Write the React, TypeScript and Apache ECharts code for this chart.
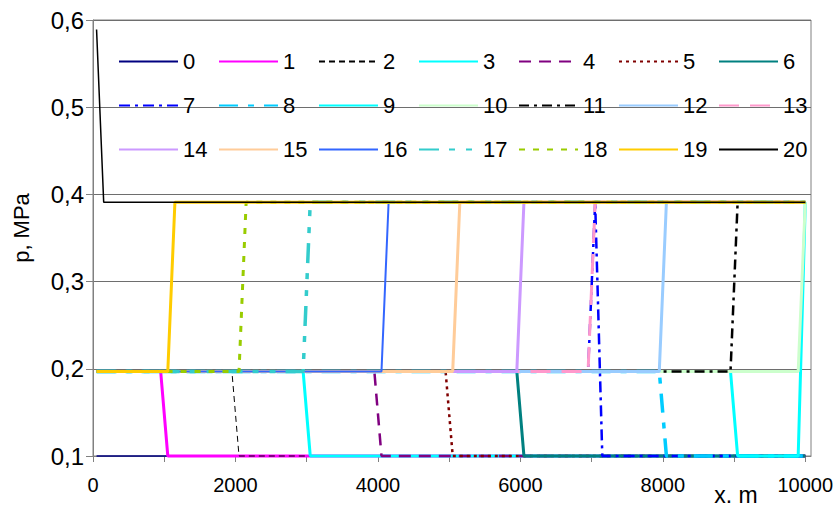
import React, { useEffect, useRef } from "react";
import * as echarts from "echarts";

// Pressure profiles p(x) along the pipe, one per time step 0..20 (x in m, p in MPa)
const profile0: [number, number][] = [[50, 0.1], [10000, 0.1]];
const profile1: [number, number][] = [[50, 0.197], [950, 0.197], [1050, 0.1], [10000, 0.1]];
const profile2: [number, number][] = [[50, 0.197], [1950, 0.197], [2050, 0.1], [10000, 0.1]];
const profile3: [number, number][] = [[50, 0.197], [2950, 0.197], [3050, 0.1], [10000, 0.1]];
const profile4: [number, number][] = [[50, 0.197], [3950, 0.197], [4050, 0.1], [10000, 0.1]];
const profile5: [number, number][] = [[50, 0.197], [4950, 0.197], [5050, 0.1], [10000, 0.1]];
const profile6: [number, number][] = [[50, 0.197], [5950, 0.197], [6050, 0.1], [10000, 0.1]];
const profile7: [number, number][] = [[50, 0.197], [6950, 0.197], [7050, 0.391], [7150, 0.1], [10000, 0.1]];
const profile8: [number, number][] = [[50, 0.197], [7950, 0.197], [8050, 0.1], [10000, 0.1]];
const profile9: [number, number][] = [[50, 0.197], [8950, 0.197], [9050, 0.1], [9900, 0.1], [10000, 0.391]];
const profile10: [number, number][] = [[50, 0.197], [9900, 0.197], [10000, 0.391]];
const profile11: [number, number][] = [[50, 0.197], [8950, 0.197], [9050, 0.391], [10000, 0.391]];
const profile12: [number, number][] = [[50, 0.197], [7950, 0.197], [8050, 0.391], [10000, 0.391]];
const profile13: [number, number][] = [[50, 0.197], [6950, 0.197], [7050, 0.391], [10000, 0.391]];
const profile14: [number, number][] = [[50, 0.197], [5950, 0.197], [6050, 0.391], [10000, 0.391]];
const profile15: [number, number][] = [[50, 0.197], [5050, 0.197], [5150, 0.391], [10000, 0.391]];
const profile16: [number, number][] = [[50, 0.197], [4050, 0.197], [4150, 0.391], [10000, 0.391]];
const profile17: [number, number][] = [[50, 0.197], [2950, 0.197], [3050, 0.391], [10000, 0.391]];
const profile18: [number, number][] = [[50, 0.197], [2050, 0.197], [2150, 0.391], [10000, 0.391]];
const profile19: [number, number][] = [[50, 0.197], [1050, 0.197], [1150, 0.391], [10000, 0.391]];
const profile20: [number, number][] = [[50, 0.589], [150, 0.391], [10000, 0.391]];

const profiles = [
  profile0, profile1, profile2, profile3, profile4, profile5, profile6,
  profile7, profile8, profile9, profile10, profile11, profile12, profile13,
  profile14, profile15, profile16, profile17, profile18, profile19, profile20,
];

const seriesNames = [
  "0", "1", "2", "3", "4", "5", "6",
  "7", "8", "9", "10", "11", "12", "13",
  "14", "15", "16", "17", "18", "19", "20",
];

const seriesColors = [
  "#000080", "#FF00FF", "#000000", "#00FFFF", "#800080", "#800000", "#008080",
  "#0000FF", "#00CCFF", "#00FFFF", "#CCFFCC", "#000000", "#99CCFF", "#FF99CC",
  "#CC99FF", "#FFCC99", "#3366FF", "#33CCCC", "#99CC00", "#FFCC00", "#000000",
];

const seriesWidths = [
  1.5, 3, 1, 3, 2.5, 2.5, 3,
  2.5, 3.5, 3, 3, 2.5, 3, 3,
  3, 3, 2, 3.5, 3, 3, 1.5,
];

const seriesDashes: (number[] | "solid")[] = [
  "solid", "solid", [6, 4], "solid", [12, 8], [3, 4], "solid",
  [11, 5, 3, 5], [19, 10, 6, 10], "solid", "solid", [10, 5, 3, 5], "solid", [20, 11],
  "solid", "solid", "solid", [20, 10, 6, 11, 6, 10], [6, 8], "solid", "solid",
];

const yTicks = { min: 0.1, max: 0.6, step: 0.1 };
const xTicks = { min: 0, max: 10080, step: 1000, labelStep: 2000 };

const FONT = "'Liberation Sans', Arial, Helvetica, sans-serif";

export default function App() {
  const ref = useRef<HTMLDivElement>(null);

  useEffect(() => {
    if (!ref.current) return;
    const chart = echarts.init(ref.current, undefined, { renderer: "svg" });

    const series = profiles.map((data, i) => ({
      name: seriesNames[i],
      type: "line" as const,
      data,
      symbol: "none",
      clip: false,
      silent: true,
      color: seriesColors[i],
      lineStyle: {
        color: seriesColors[i],
        width: seriesWidths[i],
        type: seriesDashes[i],
      },
      emphasis: { disabled: true },
    }));

    // Legend laid out as a 7-column table: one legend component per entry
    const rowTops = [50.5, 94.5, 138.5];
    const legends = seriesNames.map((name, i) => ({
      left: 118 + (i % 7) * 100,
      top: rowTops[Math.floor(i / 7)],
      orient: "horizontal" as const,
      padding: 0,
      itemGap: 0,
      itemWidth: 59,
      itemHeight: 14,
      selectedMode: false,
      data: [name],
      itemStyle: { opacity: 0 },
      textStyle: { fontSize: 22, color: "#000", fontFamily: FONT },
    }));

    chart.setOption({
      animation: false,
      backgroundColor: "#ffffff",
      textStyle: { fontFamily: FONT },
      grid: {
        left: 93,
        top: 20,
        width: 718,
        height: 436,
        show: true,
        borderColor: "#808080",
        borderWidth: 1,
        backgroundColor: "transparent",
      },
      legend: legends,
      xAxis: {
        type: "value",
        min: xTicks.min,
        max: xTicks.max,
        interval: xTicks.step,
        axisLine: { onZero: false, lineStyle: { color: "#808080", width: 1 } },
        axisTick: { show: true, inside: false, length: 6, lineStyle: { color: "#808080" } },
        splitLine: { show: false },
        axisLabel: {
          margin: 19,
          fontSize: 20,
          color: "#000",
          fontFamily: FONT,
          showMaxLabel: false,
          formatter: (v: number) => (v % xTicks.labelStep === 0 && v <= 10000 ? String(v) : ""),
        },
      },
      yAxis: {
        type: "value",
        min: yTicks.min,
        max: yTicks.max,
        interval: yTicks.step,
        axisLine: { show: true, lineStyle: { color: "#808080", width: 1 } },
        axisTick: { show: true, inside: false, length: 7, lineStyle: { color: "#808080" } },
        splitLine: { show: true, lineStyle: { color: "#6e6e6e", width: 1 } },
        axisLabel: {
          margin: 9,
          fontSize: 24,
          color: "#000",
          fontFamily: FONT,
          formatter: (v: number) => v.toFixed(1).replace(".", ","),
        },
      },
      graphic: [
        {
          type: "text",
          x: 21,
          y: 228,
          rotation: Math.PI / 2,
          style: {
            text: "p, MPa",
            fontSize: 22,
            fontFamily: FONT,
            fill: "#000",
            align: "center",
            verticalAlign: "middle",
          },
        },
        {
          type: "text",
          x: 736,
          y: 495,
          style: {
            text: "x. m",
            fontSize: 23,
            fontFamily: FONT,
            fill: "#000",
            align: "center",
            verticalAlign: "middle",
          },
        },
      ],
      series,
    });

    return () => chart.dispose();
  }, []);

  return <div ref={ref} style={{ width: 840, height: 508, position: "absolute", left: 0, top: 0 }} />;
}
